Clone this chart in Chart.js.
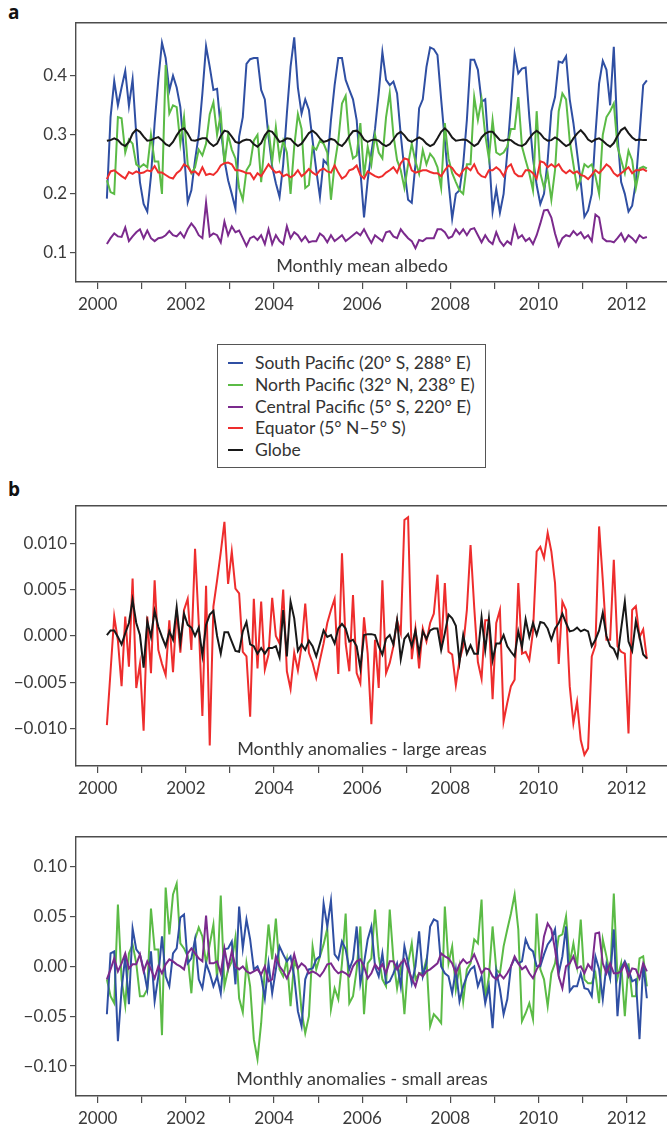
<!DOCTYPE html>
<html><head><meta charset="utf-8">
<script src="https://cdn.jsdelivr.net/npm/chart.js@4.4.1/dist/chart.umd.min.js"></script>
<style>
html,body{margin:0;padding:0;background:#fff;}
body{width:667px;height:1124px;position:relative;overflow:hidden;font-family:Lato,"Open Sans",sans-serif;color:#333;}
canvas{position:absolute;left:0;}
.lab{position:absolute;font-family:"Open Sans",sans-serif;font-weight:700;font-size:19px;line-height:19px;color:#111;}
.ptxt{position:absolute;font-family:Lato,sans-serif;font-size:18px;line-height:21.6px;white-space:nowrap;transform:translateX(-50%);color:#3a3a3a;}
#legend{position:absolute;left:217px;top:344px;width:269px;height:124px;border:1px solid #555;box-sizing:border-box;background:#fff;}
.lrow{position:absolute;left:0;width:100%;height:22px;}
.lrow .sw{position:absolute;left:10px;top:10px;width:15px;height:2px;}
.lrow .tx{position:absolute;left:37px;top:0px;font-family:Lato,sans-serif;font-size:17.5px;line-height:21px;white-space:nowrap;color:#333;}
</style>
</head>
<body>
<div class="lab" style="left:8px;top:3px;">a</div>
<div class="lab" style="left:8px;top:480px;">b</div>

<canvas id="pa" width="667" height="320" style="top:0px;"></canvas>
<canvas id="pb1" width="667" height="320" style="top:480px;"></canvas>
<canvas id="pb2" width="667" height="314" style="top:810px;"></canvas>

<div class="ptxt" style="left:362px;top:255px;">Monthly mean albedo</div>
<div class="ptxt" style="left:362px;top:738px;">Monthly anomalies - large areas</div>
<div class="ptxt" style="left:362px;top:1068px;">Monthly anomalies - small areas</div>

<div id="legend"></div>

<script>
// ---------- categories / ticks ----------
const firstYear = 2000;          // series start: March 2000, monthly
const firstMonth = 3;
const xTickYears = [2000,2001,2002,2003,2004,2005,2006,2007,2008,2009,2010,2011,2012];
const xLabelYears = [2000,2002,2004,2006,2008,2010,2012];
const yTicksA  = [0.1,0.2,0.3,0.4];
const yTicksB1 = [-0.010,-0.005,0,0.005,0.010];
const yTicksB2 = [-0.10,-0.05,0,0.05,0.10];
const seriesNames = ["South Pacific (20° S, 288° E)","North Pacific (32° N, 238° E)","Central Pacific (5° S, 220° E)","Equator (5° N–5° S)","Globe"];

// ---------- panel a: monthly mean albedo ----------
const southPacific = [
 0.192,0.330,0.391,0.350,0.380,0.408,0.349,0.394,0.300,0.220,
 0.183,0.170,0.230,0.320,0.393,0.456,0.430,0.375,0.400,0.380,0.347,0.270,
 0.186,0.206,0.257,0.300,0.370,0.450,0.415,0.376,0.378,0.310,0.257,0.223,
 0.200,0.175,0.297,0.330,0.420,0.428,0.430,0.430,0.376,0.360,0.297,0.246,
 0.218,0.195,0.250,0.336,0.415,0.465,0.380,0.336,0.360,0.342,0.290,0.240,
 0.195,0.257,0.250,0.325,0.384,0.430,0.430,0.393,0.376,0.360,0.325,0.240,
 0.160,0.223,0.270,0.310,0.370,0.440,0.393,0.384,0.390,0.370,0.300,0.240,
 0.190,0.185,0.250,0.345,0.360,0.415,0.448,0.445,0.435,0.360,0.290,0.220,
 0.158,0.200,0.206,0.250,0.325,0.427,0.427,0.410,0.356,0.360,0.270,0.170,
 0.208,0.168,0.200,0.270,0.350,0.437,0.404,0.412,0.414,0.330,0.260,0.215,
 0.183,0.200,0.257,0.340,0.364,0.424,0.422,0.433,0.360,0.320,0.270,0.220,
 0.161,0.172,0.200,0.300,0.387,0.425,0.410,0.350,0.449,0.300,0.220,0.200,
 0.170,0.180,0.220,0.300,0.384,0.392];
const northPacific = [
 0.223,0.203,0.200,0.330,0.328,0.270,0.292,0.285,0.250,0.245,
 0.250,0.245,0.300,0.255,0.255,0.200,0.418,0.336,0.350,0.347,0.285,0.330,
 0.250,0.235,0.245,0.275,0.265,0.285,0.335,0.355,0.300,0.335,0.250,0.300,
 0.275,0.260,0.210,0.190,0.240,0.250,0.290,0.300,0.220,0.290,0.310,0.255,
 0.313,0.260,0.290,0.270,0.200,0.280,0.335,0.310,0.210,0.215,0.280,0.275,
 0.290,0.285,0.270,0.190,0.250,0.290,0.353,0.366,0.290,0.260,0.265,0.320,
 0.230,0.280,0.250,0.300,0.270,0.260,0.330,0.371,0.300,0.257,0.240,0.210,
 0.250,0.285,0.255,0.234,0.274,0.250,0.268,0.260,0.245,0.210,0.320,0.260,
 0.235,0.220,0.206,0.200,0.250,0.250,0.364,0.325,0.360,0.300,0.260,0.325,
 0.270,0.266,0.270,0.280,0.310,0.310,0.364,0.280,0.257,0.235,0.206,0.340,
 0.235,0.210,0.235,0.190,0.240,0.340,0.370,0.360,0.290,0.250,0.210,0.225,
 0.250,0.245,0.250,0.230,0.200,0.300,0.330,0.340,0.353,0.280,0.257,0.235,
 0.273,0.257,0.210,0.243,0.246,0.243];
const centralPacific = [
 0.115,0.125,0.133,0.128,0.127,0.143,0.120,0.128,0.135,0.140,
 0.125,0.138,0.125,0.120,0.125,0.126,0.130,0.137,0.130,0.128,0.135,0.126,
 0.140,0.150,0.142,0.130,0.125,0.185,0.128,0.133,0.130,0.118,0.153,0.130,
 0.145,0.135,0.138,0.125,0.112,0.125,0.128,0.122,0.130,0.115,0.140,0.115,
 0.130,0.120,0.115,0.145,0.125,0.135,0.130,0.120,0.128,0.118,0.120,0.120,
 0.133,0.128,0.118,0.130,0.120,0.125,0.130,0.120,0.125,0.130,0.135,0.130,
 0.140,0.128,0.117,0.130,0.125,0.120,0.135,0.137,0.128,0.125,0.140,0.132,
 0.125,0.120,0.108,0.122,0.120,0.125,0.125,0.125,0.140,0.140,0.135,0.125,
 0.128,0.140,0.132,0.140,0.130,0.140,0.142,0.130,0.118,0.130,0.120,0.115,
 0.135,0.120,0.112,0.120,0.115,0.145,0.125,0.130,0.120,0.125,0.115,0.130,
 0.150,0.172,0.173,0.160,0.133,0.112,0.125,0.130,0.128,0.137,0.130,0.135,
 0.125,0.130,0.120,0.165,0.160,0.125,0.120,0.120,0.118,0.125,0.133,0.120,
 0.130,0.125,0.118,0.130,0.125,0.127];
const equator = [
 0.225,0.238,0.240,0.235,0.230,0.226,0.237,0.234,0.238,0.235,
 0.236,0.240,0.238,0.247,0.236,0.236,0.232,0.228,0.226,0.235,0.240,0.250,
 0.246,0.236,0.238,0.232,0.245,0.232,0.234,0.232,0.238,0.248,0.252,0.253,
 0.250,0.240,0.240,0.238,0.235,0.235,0.225,0.235,0.230,0.240,0.250,0.242,
 0.236,0.238,0.230,0.233,0.228,0.232,0.240,0.230,0.235,0.242,0.236,0.232,
 0.240,0.243,0.238,0.236,0.248,0.236,0.226,0.230,0.240,0.242,0.248,0.232,
 0.226,0.238,0.234,0.230,0.228,0.230,0.236,0.240,0.245,0.236,0.252,0.260,
 0.258,0.240,0.236,0.238,0.240,0.240,0.237,0.235,0.235,0.230,0.240,0.248,
 0.244,0.235,0.230,0.240,0.245,0.240,0.250,0.236,0.230,0.228,0.240,0.240,
 0.245,0.240,0.230,0.245,0.250,0.235,0.230,0.230,0.240,0.240,0.235,0.226,
 0.255,0.253,0.245,0.250,0.245,0.250,0.240,0.235,0.240,0.235,0.238,0.232,
 0.230,0.225,0.232,0.240,0.235,0.242,0.250,0.245,0.235,0.230,0.235,0.240,
 0.245,0.235,0.240,0.240,0.242,0.238];
const globe = [
 0.290,0.291,0.294,0.291,0.284,0.281,0.288,0.302,0.309,0.305,
 0.297,0.290,0.291,0.294,0.296,0.291,0.284,0.281,0.288,0.299,0.308,0.311,
 0.302,0.291,0.290,0.292,0.294,0.294,0.286,0.281,0.285,0.298,0.307,0.305,
 0.297,0.288,0.286,0.290,0.292,0.291,0.284,0.280,0.286,0.299,0.307,0.305,
 0.297,0.288,0.290,0.294,0.293,0.286,0.281,0.285,0.294,0.303,0.307,0.302,
 0.294,0.288,0.290,0.293,0.291,0.284,0.281,0.288,0.298,0.306,0.307,0.302,
 0.292,0.288,0.291,0.292,0.290,0.284,0.281,0.284,0.292,0.301,0.305,0.299,
 0.291,0.288,0.292,0.2955,0.292,0.285,0.281,0.284,0.294,0.305,0.311,0.305,
 0.2955,0.290,0.291,0.292,0.291,0.286,0.281,0.285,0.2955,0.302,0.305,0.305,
 0.298,0.291,0.290,0.292,0.291,0.286,0.2825,0.281,0.285,0.294,0.302,0.307,
 0.302,0.294,0.290,0.291,0.2955,0.292,0.286,0.281,0.284,0.294,0.302,0.308,
 0.301,0.292,0.288,0.292,0.294,0.290,0.284,0.280,0.286,0.298,0.308,0.312,
 0.303,0.2955,0.291,0.292,0.291,0.291];

// ---------- panel b (top): anomalies, large areas ----------
const equatorAnom = [
 -0.0096,-0.0038,0.0021,-0.0005,-0.0054,0.0021,-0.0033,0.0062,-0.0056,-0.0030,
 -0.0102,0.0021,-0.0040,0.0060,-0.0015,-0.0030,-0.0042,0.0017,-0.0039,0.0028,-0.0018,0.0028,
 0.0040,-0.0015,0.0094,0.0014,-0.0086,0.0054,-0.0118,0.0032,0.0060,0.0090,0.0123,0.0056,
 0.0091,0.0051,0.0046,-0.0017,-0.0022,-0.0087,0.0040,-0.0035,0.0037,-0.0036,-0.0020,0.0041,
 0.0000,-0.0008,0.0050,-0.0038,-0.0057,-0.0018,-0.0037,-0.0011,0.0035,-0.0018,-0.0029,-0.0045,
 -0.0026,-0.0008,0.0014,0.0028,0.0040,-0.0041,0.0089,-0.0008,-0.0038,0.0044,-0.0040,-0.0051,
 0.0020,-0.0019,-0.0095,-0.0004,-0.0056,0.0060,-0.0040,-0.0029,-0.0011,0.0017,0.0003,0.0125,
 0.0128,-0.0025,0.0008,-0.0035,0.0008,-0.0006,0.0014,0.0024,0.0066,-0.0015,0.0057,-0.0017,
 -0.0020,-0.0053,-0.0026,-0.0011,0.0028,0.0098,0.0031,-0.0028,-0.0046,0.0017,0.0017,-0.0068,
 0.0014,0.0028,-0.0092,-0.0072,-0.0054,-0.0047,0.0057,-0.0019,-0.0017,-0.0026,0.0005,0.0091,
 0.0096,0.0084,0.0111,0.0091,0.0057,-0.0030,0.0037,0.0028,-0.0054,-0.0094,-0.0071,-0.0112,
 -0.0128,-0.0121,-0.0022,-0.0010,0.0118,0.0060,-0.0004,-0.0004,0.0082,-0.0011,-0.0017,-0.0019,
 -0.0105,0.0028,0.0032,-0.0001,0.0007,-0.0025];
const globeAnom = [
 0.0001,0.0006,0.0006,-0.0001,-0.0009,0.0003,0.0014,0.0039,0.0014,0.0001,
 -0.0034,0.0016,-0.0001,0.0027,0.0010,-0.0001,-0.0011,0.0005,-0.0004,0.0031,-0.0007,0.0024,
 0.0012,0.0009,0.0000,0.0009,-0.0021,0.0012,0.0023,0.0027,0.0000,-0.0019,0.0004,0.0004,
 -0.0006,-0.0016,-0.0017,0.0005,0.0015,-0.0009,-0.0011,-0.0019,-0.0013,-0.0019,-0.0013,-0.0013,
 -0.0011,-0.0023,0.0028,-0.0022,0.0037,0.0019,-0.0016,-0.0009,-0.0015,-0.0005,-0.0011,-0.0022,
 -0.0008,0.0006,-0.0001,0.0001,-0.0008,0.0008,0.0013,0.0008,-0.0006,-0.0004,-0.0011,-0.0035,
 0.0001,0.0002,0.0002,0.0001,-0.0011,-0.0020,-0.0003,0.0001,-0.0009,0.0017,-0.0025,-0.0003,
 0.0002,-0.0011,0.0006,-0.0019,0.0005,-0.0003,0.0006,0.0008,0.0008,-0.0015,0.0003,0.0023,
 0.0019,0.0011,-0.0028,0.0001,-0.0019,-0.0010,-0.0019,-0.0019,0.0020,-0.0015,0.0019,-0.0026,
 -0.0008,-0.0008,0.0001,-0.0011,-0.0017,-0.0022,0.0005,-0.0012,0.0018,-0.0001,0.0014,0.0001,
 0.0015,0.0014,0.0008,-0.0004,0.0008,0.0014,0.0024,0.0014,0.0005,0.0006,0.0009,0.0005,
 0.0007,0.0005,-0.0011,-0.0004,0.0006,0.0025,0.0000,-0.0011,-0.0014,-0.0023,0.0008,0.0037,
 -0.0006,-0.0016,0.0016,-0.0001,-0.0020,-0.0024];

// ---------- panel b (bottom): anomalies, small areas ----------
const southAnom = [
 -0.048,0.013,0.015,-0.075,-0.023,0.010,-0.038,0.038,0.017,0.012,
 -0.003,-0.023,0.015,-0.035,-0.010,0.030,-0.010,-0.020,0.013,0.018,0.049,0.052,
 0.003,0.008,0.027,-0.013,-0.022,0.003,-0.007,-0.020,-0.010,-0.027,0.017,0.018,
 0.025,-0.018,0.060,0.018,0.047,0.027,-0.003,0.000,-0.010,-0.032,0.003,-0.027,
 -0.003,0.020,0.012,0.005,0.010,-0.010,-0.045,-0.060,-0.013,-0.003,-0.002,0.007,
 0.010,0.063,0.040,0.066,0.012,0.007,0.025,0.017,-0.003,0.007,0.040,-0.017,
 0.003,0.027,0.040,0.000,-0.010,0.013,-0.017,-0.015,-0.007,0.003,-0.020,0.020,
 0.003,-0.017,0.000,0.035,-0.010,0.003,0.040,0.047,0.045,0.000,-0.007,-0.010,
 -0.027,-0.003,-0.035,-0.020,-0.010,-0.003,0.000,-0.020,-0.010,-0.037,-0.020,-0.062,
 -0.005,-0.023,-0.048,-0.033,0.000,0.008,0.003,0.005,0.027,0.018,0.015,0.000,
 0.000,0.012,0.022,0.027,0.037,-0.007,0.010,0.040,-0.025,-0.020,-0.020,-0.007,
 -0.022,-0.023,-0.030,0.010,-0.003,-0.033,0.002,-0.012,0.037,-0.050,-0.002,0.005,
 -0.003,-0.015,-0.013,-0.073,0.003,-0.032];
const northAnom = [
 -0.013,-0.030,-0.037,0.062,-0.013,-0.039,0.013,0.022,0.003,-0.030,
 -0.030,-0.023,0.058,0.017,0.017,-0.069,0.079,0.032,0.072,0.083,0.023,0.018,
 0.010,-0.027,0.027,0.039,0.030,0.003,0.022,0.042,-0.013,0.071,-0.020,-0.003,
 0.005,0.029,-0.032,-0.046,0.003,-0.020,-0.073,-0.093,-0.057,-0.003,0.042,0.007,
 0.048,-0.003,-0.010,0.007,-0.040,0.005,-0.003,-0.045,-0.067,-0.050,0.020,-0.003,
 0.010,0.022,0.038,-0.043,-0.022,-0.033,0.003,0.053,-0.037,-0.030,-0.003,0.040,
 -0.048,0.003,0.008,0.057,0.010,-0.013,-0.020,0.057,0.007,-0.022,0.000,-0.048,
 0.003,0.023,-0.013,-0.007,-0.007,0.007,-0.060,-0.048,-0.052,-0.057,0.060,0.003,
 0.020,-0.023,0.000,-0.035,-0.003,0.003,0.027,0.023,0.067,-0.033,-0.010,0.040,
 -0.003,-0.007,0.020,0.037,0.053,0.072,0.037,-0.055,-0.047,-0.037,-0.053,0.053,
 -0.003,-0.013,-0.040,-0.007,0.003,0.030,0.032,0.050,0.003,0.023,0.000,0.047,
 -0.013,-0.017,-0.017,-0.007,-0.037,0.027,0.010,-0.010,0.073,-0.012,0.003,-0.050,
 0.003,-0.030,-0.030,0.008,0.010,-0.020];
const centralAnom = [
 -0.013,-0.003,0.008,-0.005,0.003,0.013,-0.002,0.002,0.002,0.012,
 -0.005,0.005,-0.003,-0.012,0.000,-0.007,0.002,0.007,0.005,0.002,0.000,-0.003,
 0.013,0.018,0.013,0.008,0.005,0.051,0.003,0.003,0.005,-0.007,0.018,-0.002,
 0.015,0.000,-0.003,0.000,-0.005,-0.007,-0.005,-0.003,-0.008,0.000,-0.015,-0.013,
 0.010,0.000,-0.005,-0.012,-0.003,0.012,-0.002,0.003,0.000,-0.007,-0.005,-0.007,
 -0.010,-0.005,0.002,0.003,-0.003,-0.007,-0.005,-0.007,-0.010,0.000,0.005,0.007,
 0.000,-0.012,-0.007,0.002,-0.003,0.002,-0.007,0.005,0.005,-0.003,0.003,0.007,
 -0.003,-0.012,-0.020,-0.007,-0.010,-0.005,-0.003,0.000,0.003,0.013,0.010,0.008,
 0.003,-0.007,0.002,0.007,0.003,0.005,0.012,0.003,-0.007,-0.002,-0.003,-0.010,
 -0.013,-0.008,-0.012,-0.007,0.000,0.010,0.003,-0.003,0.000,-0.007,-0.012,-0.003,
 0.003,0.030,0.043,0.037,0.017,-0.010,-0.022,0.000,0.003,0.010,-0.002,0.000,
 -0.007,0.002,-0.003,0.033,0.034,0.003,-0.007,0.003,-0.007,-0.007,-0.005,0.003,
 -0.010,-0.002,-0.003,-0.012,0.003,-0.005];

// ---------- styling ----------
const COL = {blue:'#2f4fa3', green:'#5bbb46', purple:'#7b2a8d', red:'#ee2d2d', black:'#181818'};
const axisColor = '#4d4d4d';
const textColor = '#3a3a3a';
const PX_PER_YEAR = 44.08, X_ZERO_PX = 97.7, AREA_LEFT = 76, AREA_W = 591;
const xMin = firstYear - (X_ZERO_PX - AREA_LEFT) / PX_PER_YEAR;
const xMax = xMin + AREA_W / PX_PER_YEAR;

function monthX(i){ return firstYear + (firstMonth - 1 + i + 0.5) / 12; }
function pts(arr){ return arr.map((v, i) => ({x: monthX(i), y: v})); }
const minus = s => s.replace('-', '\u2212');

function panel(id, padTop, axisH, yMin, yMax, yTicks, fmt, sets){
  new Chart(document.getElementById(id), {
    type: 'line',
    data: {datasets: sets.map(s => ({
      data: pts(s.data), borderColor: s.color, borderWidth: 2,
      pointRadius: 0, tension: 0, fill: false, order: s.order }))},
    options: {
      responsive: false, animation: false, devicePixelRatio: 1, events: [],
      layout: {padding: {top: padTop, left: 0, right: 0, bottom: 0}},
      plugins: {legend: {display: false}, tooltip: {enabled: false}, title: {display: false}},
      scales: {
        x: {type: 'linear', position: 'bottom', min: xMin, max: xMax,
          afterBuildTicks: s => { s.ticks = xTickYears.map(v => ({value: v})); },
          afterFit: s => { s.height = axisH; },
          ticks: {autoSkip: false, maxRotation: 0, minRotation: 0, padding: 5, color: textColor,
            font: {family: 'Lato', size: 17},
            callback: v => xLabelYears.includes(v) ? String(v) : ''},
          grid: {display: true, drawOnChartArea: false, drawTicks: true, tickLength: 7, color: axisColor, lineWidth: 1.2},
          border: {display: true, color: axisColor, width: 1.4}},
        xTop: {type: 'linear', position: 'top', min: 0, max: 1,
          afterBuildTicks: s => { s.ticks = []; },
          afterFit: s => { s.height = 0; },
          ticks: {display: false}, grid: {display: false, drawTicks: false},
          border: {display: true, color: axisColor, width: 1.4}},
        y: {type: 'linear', min: yMin, max: yMax,
          afterBuildTicks: s => { s.ticks = yTicks.map(v => ({value: v})); },
          afterFit: s => { s.width = AREA_LEFT; },
          ticks: {padding: 3, color: textColor, font: {family: 'Lato', size: 17}, callback: fmt},
          grid: {display: true, drawOnChartArea: false, drawTicks: true, tickLength: 6, color: axisColor, lineWidth: 1.2},
          border: {display: true, color: axisColor, width: 1.4}}
      }
    }
  });
}

panel('pa', 22.7, 38, 0.0508, 0.4898, yTicksA, v => v.toFixed(1), [
  {data: globe, color: COL.black, order: 0},
  {data: equator, color: COL.red, order: 1},
  {data: centralPacific, color: COL.purple, order: 2},
  {data: northPacific, color: COL.green, order: 3},
  {data: southPacific, color: COL.blue, order: 4}
]);
panel('pb1', 26, 34, -0.014, 0.014, yTicksB1, v => minus(v.toFixed(3)), [
  {data: globeAnom, color: COL.black, order: 0},
  {data: equatorAnom, color: COL.red, order: 1}
]);
panel('pb2', 26.7, 28, -0.13, 0.13, yTicksB2, v => minus(v.toFixed(2)), [
  {data: centralAnom, color: COL.purple, order: 0},
  {data: southAnom, color: COL.blue, order: 1},
  {data: northAnom, color: COL.green, order: 2}
]);

// ---------- legend (HTML) ----------
const legendColors = [COL.blue, COL.green, COL.purple, COL.red, COL.black];
const lg = document.getElementById('legend');
seriesNames.forEach((name, i) => {
  const r = document.createElement('div');
  r.className = 'lrow';
  r.style.top = (7 + i * 21.8) + 'px';
  r.innerHTML = '<span class="sw" style="background:' + legendColors[i] + '"></span><span class="tx">' + name + '</span>';
  lg.appendChild(r);
});
</script>
</body></html>
